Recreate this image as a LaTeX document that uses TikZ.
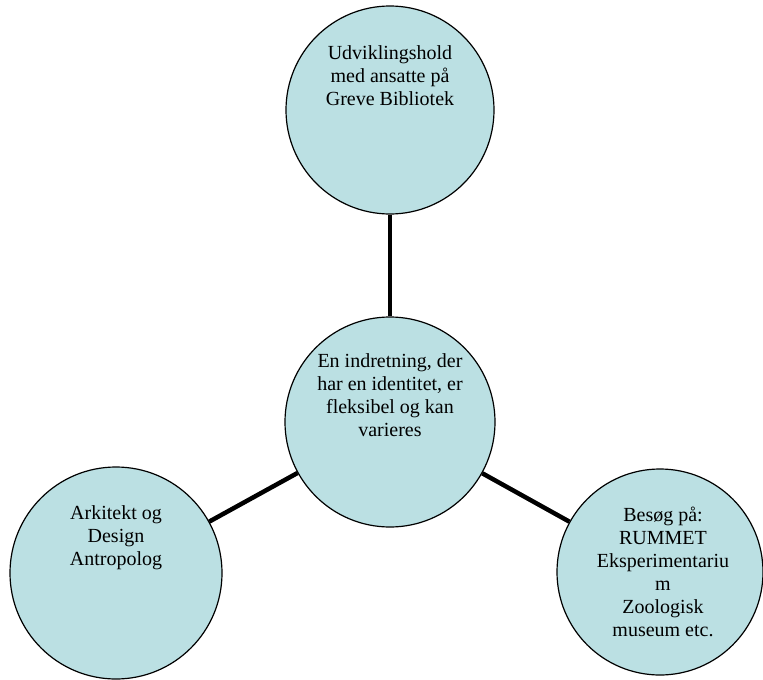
\documentclass[tikz,border=0pt]{standalone}
\usepackage{fontspec}
\setmainfont{Liberation Serif}
\usepackage{tikz}
\usetikzlibrary{positioning}
\definecolor{bubblefill}{HTML}{BBE0E3}
\tikzstyle{line} = [draw, line width=4.5pt]
\tikzstyle{bubble} = [draw, circle, fill=bubblefill, line width=1.2pt, inner sep=0pt]
\tikzstyle{txt} = [align=center, inner sep=0pt, font=\fontsize{20}{23}\selectfont]

\begin{document}
\begin{tikzpicture}[x=1pt, y=-1pt]
        \useasboundingbox (0,0) rectangle (763,680);
        \node[bubble, minimum size=208pt] (team) at (390,110) {};
        \node[bubble, minimum size=210pt] (centre) at (390,422) {};
        \node[bubble, minimum size=212pt] (arkitekt) at (116,573) {};
        \node[bubble, minimum size=206pt] (besoeg) at (660,572) {};
        \path[line] (team) -- (centre);
        \path[line] (centre) -- (arkitekt);
        \path[line] (centre) -- (besoeg);
        \node[txt] (teamtxt) at ([yshift=34pt]team.center) {Udviklingshold\\med ansatte på\\Greve Bibliotek};
        \node[txt] (centretxt) at ([yshift=27pt]centre.center) {En indretning, der\\har en identitet, er\\fleksibel og kan\\varieres};
        \node[txt] (arkitekttxt) at ([yshift=35pt]arkitekt.center) {Arkitekt og\\Design\\Antropolog};
        \node[txt] (besoegtxt) at ([xshift=3pt]besoeg.center) {Besøg på:\\RUMMET\\Eksperimentariu\\m\\Zoologisk\\museum etc.};
    \end{tikzpicture}
\end{document}
